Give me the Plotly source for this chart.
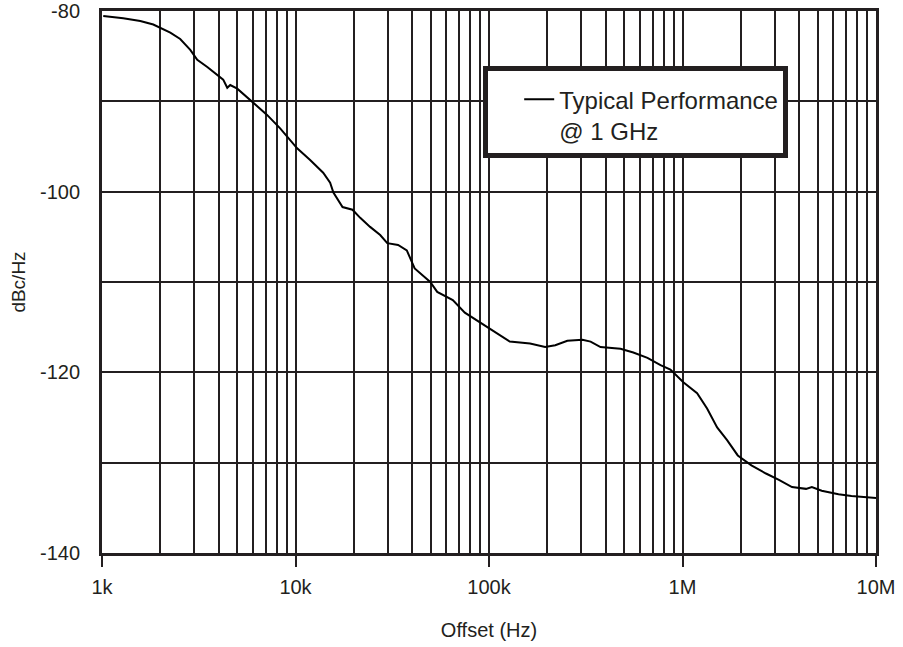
import plotly.graph_objects as go

# Offset frequency (Hz) and phase noise (dBc/Hz)
offset_hz = [1015, 1288, 1577, 1841, 2254, 2536, 2859, 3107, 3500, 3936,
             4230, 4440, 4600, 5000, 5500, 6050, 7130, 8330, 9380, 10200,
             11900, 13900, 15100, 15700, 17500, 19700, 21600, 24300, 27400, 29800,
             33900, 37600, 41300, 49700, 54000, 65000, 75000, 90000, 105000, 128000,
             163000, 195000, 220000, 254000, 304000, 335000, 377000, 478000, 557000, 659000,
             770000, 866000, 1010000, 1190000, 1340000, 1510000, 1700000, 1930000, 2270000, 2700000,
             3150000, 3680000, 4350000, 4660000, 5240000, 6400000, 7470000, 9160000, 10000000]
noise_dbc = [-80.55, -80.8, -81.1, -81.5, -82.4, -83.1, -84.3, -85.4, -86.2, -87.1,
             -87.6, -88.5, -88.2, -88.6, -89.4, -90.1, -91.5, -93.0, -94.3, -95.2,
             -96.5, -97.9, -99.0, -100.1, -101.7, -102.0, -102.9, -103.9, -104.8, -105.7,
             -105.9, -106.5, -108.5, -110.0, -111.1, -112.0, -113.4, -114.5, -115.5, -116.6,
             -116.8, -117.2, -117.0, -116.5, -116.4, -116.6, -117.2, -117.4, -117.8, -118.4,
             -119.2, -119.7, -121.1, -122.3, -124.0, -126.1, -127.5, -129.2, -130.3, -131.2,
             -131.9, -132.7, -132.9, -132.7, -133.1, -133.5, -133.7, -133.8, -133.9]

x_major_vals = [1e3, 1e4, 1e5, 1e6, 1e7]
x_major_text = ["1k", "10k", "100k", "1M", "10M"]
x_minor_vals = [m * 10 ** d for d in range(3, 7) for m in range(2, 10)]
y_major_vals = [-140, -120, -100, -80]
y_major_text = ["-140", "-120", "-100", "-80"]

INK = "#231f20"
FONT = "Liberation Sans, Arial, sans-serif"

fig = go.Figure()
fig.add_trace(go.Scatter(
    x=offset_hz, y=noise_dbc, mode="lines",
    line=dict(color="black", width=2),
    name="Typical Performance<br>@ 1 GHz",
    showlegend=True,
))

fig.update_layout(
    width=903, height=647,
    margin=dict(l=102, r=27, t=11, b=94, autoexpand=False),
    paper_bgcolor="white", plot_bgcolor="white",
    font=dict(family=FONT, color=INK, size=20),
    showlegend=True,
    legend=dict(
        x=0.4925, y=0.899, xanchor="left", yanchor="top",
        bgcolor="white", bordercolor=INK, borderwidth=5,
        font=dict(size=24, family=FONT, color=INK),
        valign="top",
        indentation=31,
        title=dict(text=" ", font=dict(size=5)),
    ),
    xaxis=dict(
        type="log", range=[3, 7], automargin=False,
        tickmode="array", tickvals=x_major_vals, ticktext=x_major_text,
        ticks="outside", ticklen=11, tickwidth=2, tickcolor=INK,
        ticklabelstandoff=3,
        showgrid=True, gridcolor=INK, gridwidth=2,
        minor=dict(tickmode="array", tickvals=x_minor_vals, showgrid=True,
                   gridcolor=INK, gridwidth=2, ticks=""),
        showline=True, linecolor=INK, linewidth=3, mirror=True,
        zeroline=False,
        title=dict(text="Offset (Hz)", font=dict(size=20), standoff=26),
        tickfont=dict(size=20),
    ),
    yaxis=dict(
        range=[-140, -80], automargin=False,
        tickmode="array", tickvals=y_major_vals, ticktext=y_major_text,
        ticks="", ticklabelstandoff=15,
        showgrid=True, gridcolor=INK, gridwidth=2,
        minor=dict(dtick=10, tick0=-140, showgrid=True, gridcolor=INK, gridwidth=2, ticks=""),
        showline=True, linecolor=INK, linewidth=3, mirror=True,
        zeroline=False,
        title=dict(text="dBc/Hz", font=dict(size=19), standoff=10),
        tickfont=dict(size=20),
    ),
)

fig.write_html("out.html")
